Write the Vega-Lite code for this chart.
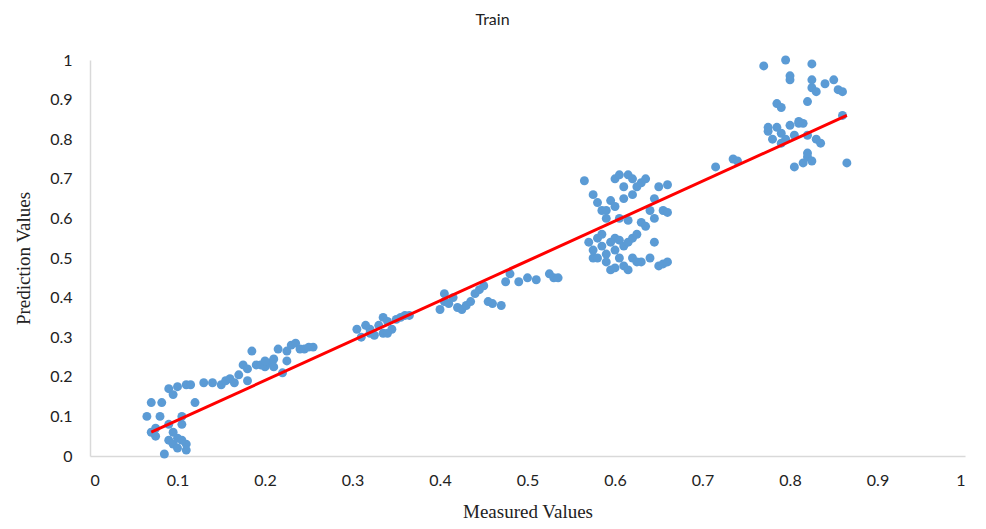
{
  "$schema": "https://vega.github.io/schema/vega-lite/v6.json",
  "autosize": {"type": "none"},
  "width": 875,
  "height": 396,
  "padding": {"left": 90, "top": 60, "right": 21, "bottom": 73},
  "background": "white",
  "title": {"text": "Train", "font": "Lato", "fontSize": 16, "fontWeight": "normal", "color": "#222222", "offset": 24, "dx": -35},
  "config": {"view": {"stroke": null}, "axis": {"labelOverlap": false}},
  "datasets": {
    "pts": [
      {"m":0.065,"p":0.10},{"m":0.07,"p":0.135},{"m":0.075,"p":0.05},{"m":0.075,"p":0.07},{"m":0.08,"p":0.10},{"m":0.082,"p":0.135},{"m":0.085,"p":0.005},{"m":0.09,"p":0.17},{"m":0.09,"p":0.04},{"m":0.09,"p":0.08},{"m":0.095,"p":0.03},{"m":0.095,"p":0.155},{"m":0.1,"p":0.045},{"m":0.1,"p":0.02},{"m":0.1,"p":0.175},{"m":0.105,"p":0.10},{"m":0.105,"p":0.08},{"m":0.11,"p":0.03},{"m":0.11,"p":0.015},{"m":0.11,"p":0.18},{"m":0.115,"p":0.18},{"m":0.12,"p":0.135},{"m":0.105,"p":0.04},{"m":0.095,"p":0.06},{"m":0.07,"p":0.06},
      {"m":0.13,"p":0.185},{"m":0.14,"p":0.185},{"m":0.15,"p":0.18},{"m":0.155,"p":0.19},{"m":0.16,"p":0.195},{"m":0.165,"p":0.185},{"m":0.17,"p":0.205},{"m":0.175,"p":0.23},{"m":0.18,"p":0.19},{"m":0.18,"p":0.22},{"m":0.185,"p":0.265},{"m":0.19,"p":0.23},{"m":0.195,"p":0.23},{"m":0.2,"p":0.225},{"m":0.205,"p":0.235},{"m":0.21,"p":0.245},{"m":0.215,"p":0.27},{"m":0.22,"p":0.21},{"m":0.225,"p":0.265},{"m":0.23,"p":0.28},{"m":0.235,"p":0.285},{"m":0.24,"p":0.27},{"m":0.245,"p":0.27},{"m":0.25,"p":0.275},{"m":0.255,"p":0.275},{"m":0.2,"p":0.24},{"m":0.21,"p":0.225},{"m":0.225,"p":0.24},
      {"m":0.305,"p":0.32},{"m":0.31,"p":0.30},{"m":0.315,"p":0.33},{"m":0.32,"p":0.32},{"m":0.325,"p":0.305},{"m":0.33,"p":0.33},{"m":0.335,"p":0.31},{"m":0.335,"p":0.35},{"m":0.34,"p":0.34},{"m":0.345,"p":0.32},{"m":0.35,"p":0.345},{"m":0.355,"p":0.35},{"m":0.36,"p":0.355},{"m":0.365,"p":0.355},{"m":0.34,"p":0.31},{"m":0.32,"p":0.31},
      {"m":0.40,"p":0.37},{"m":0.405,"p":0.41},{"m":0.405,"p":0.39},{"m":0.41,"p":0.385},{"m":0.415,"p":0.40},{"m":0.42,"p":0.375},{"m":0.425,"p":0.37},{"m":0.43,"p":0.38},{"m":0.435,"p":0.39},{"m":0.44,"p":0.41},{"m":0.445,"p":0.42},{"m":0.45,"p":0.43},{"m":0.455,"p":0.39},{"m":0.46,"p":0.385},{"m":0.47,"p":0.38},{"m":0.475,"p":0.44},{"m":0.48,"p":0.46},{"m":0.49,"p":0.44},{"m":0.50,"p":0.45},{"m":0.51,"p":0.445},{"m":0.525,"p":0.46},{"m":0.53,"p":0.45},{"m":0.535,"p":0.45},
      {"m":0.565,"p":0.695},{"m":0.575,"p":0.66},{"m":0.58,"p":0.64},{"m":0.585,"p":0.62},{"m":0.59,"p":0.60},{"m":0.595,"p":0.645},{"m":0.60,"p":0.70},{"m":0.605,"p":0.71},{"m":0.61,"p":0.68},{"m":0.615,"p":0.71},{"m":0.62,"p":0.70},{"m":0.625,"p":0.68},{"m":0.63,"p":0.69},{"m":0.635,"p":0.70},{"m":0.61,"p":0.65},{"m":0.62,"p":0.66},{"m":0.60,"p":0.63},{"m":0.59,"p":0.62},{"m":0.605,"p":0.60},{"m":0.615,"p":0.595},{"m":0.64,"p":0.62},{"m":0.645,"p":0.65},{"m":0.65,"p":0.68},{"m":0.66,"p":0.685},{"m":0.655,"p":0.62},{"m":0.66,"p":0.615},{"m":0.63,"p":0.59},{"m":0.645,"p":0.60},
      {"m":0.57,"p":0.54},{"m":0.575,"p":0.52},{"m":0.575,"p":0.50},{"m":0.58,"p":0.55},{"m":0.585,"p":0.53},{"m":0.59,"p":0.51},{"m":0.59,"p":0.49},{"m":0.595,"p":0.47},{"m":0.60,"p":0.55},{"m":0.60,"p":0.52},{"m":0.605,"p":0.50},{"m":0.61,"p":0.48},{"m":0.61,"p":0.53},{"m":0.615,"p":0.54},{"m":0.62,"p":0.50},{"m":0.62,"p":0.55},{"m":0.625,"p":0.56},{"m":0.63,"p":0.49},{"m":0.635,"p":0.58},{"m":0.64,"p":0.50},{"m":0.645,"p":0.54},{"m":0.65,"p":0.48},{"m":0.655,"p":0.485},{"m":0.66,"p":0.49},{"m":0.60,"p":0.475},{"m":0.58,"p":0.50},{"m":0.585,"p":0.56},{"m":0.595,"p":0.54},{"m":0.605,"p":0.545},{"m":0.615,"p":0.47},{"m":0.625,"p":0.49},
      {"m":0.715,"p":0.73},{"m":0.735,"p":0.75},{"m":0.74,"p":0.745},{"m":0.77,"p":0.985},{"m":0.775,"p":0.82},{"m":0.78,"p":0.80},{"m":0.785,"p":0.83},{"m":0.785,"p":0.89},{"m":0.79,"p":0.88},{"m":0.79,"p":0.815},{"m":0.795,"p":1.0},{"m":0.795,"p":0.80},{"m":0.80,"p":0.95},{"m":0.80,"p":0.835},{"m":0.80,"p":0.96},{"m":0.805,"p":0.73},{"m":0.805,"p":0.81},{"m":0.81,"p":0.84},{"m":0.815,"p":0.74},{"m":0.815,"p":0.84},{"m":0.82,"p":0.755},{"m":0.82,"p":0.81},{"m":0.82,"p":0.895},{"m":0.82,"p":0.765},{"m":0.825,"p":0.99},{"m":0.825,"p":0.93},{"m":0.825,"p":0.95},{"m":0.825,"p":0.745},{"m":0.83,"p":0.92},{"m":0.83,"p":0.80},{"m":0.835,"p":0.79},{"m":0.84,"p":0.94},{"m":0.85,"p":0.95},{"m":0.855,"p":0.925},{"m":0.86,"p":0.92},{"m":0.86,"p":0.86},{"m":0.865,"p":0.74},{"m":0.81,"p":0.845},{"m":0.775,"p":0.83},{"m":0.79,"p":0.79}
    ],
    "fit": [{"m":0.07,"p":0.06},{"m":0.865,"p":0.86}],
    "note": [{"label":"R² = 0.949"}]
  },
  "encoding": {
    "x": {"field": "m", "type": "quantitative", "scale": {"domain": [0, 1], "nice": false},
      "axis": {"title": "Measured Values", "values": [0,0.1,0.2,0.3,0.4,0.5,0.6,0.7,0.8,0.9,1], "format": "~g", "labelOverlap": false, "grid": false, "ticks": false, "domainColor": "#d9d9d9", "domainWidth": 1.5, "labelFont": "Lato", "labelFontSize": 16, "labelColor": "#222222", "labelPadding": 16, "titleFont": "Liberation Serif", "titleFontSize": 19, "titleFontWeight": "normal", "titleColor": "#222222", "titlePadding": 14}},
    "y": {"field": "p", "type": "quantitative", "scale": {"domain": [0, 1], "nice": false},
      "axis": {"title": "Prediction Values", "values": [0,0.1,0.2,0.3,0.4,0.5,0.6,0.7,0.8,0.9,1], "format": "~g", "labelOverlap": false, "grid": false, "ticks": false, "domainColor": "#d9d9d9", "domainWidth": 1.5, "labelFont": "Lato", "labelFontSize": 16, "labelColor": "#222222", "labelPadding": 18, "titleFont": "Liberation Serif", "titleFontSize": 19, "titleFontWeight": "normal", "titleColor": "#222222", "titlePadding": 16}}
  },
  "layer": [
    {
      "data": {"name": "pts"},
      "mark": {"type": "point", "shape": "circle", "filled": true, "size": 80, "color": "#5b9bd5", "opacity": 1}
    },
    {
      "data": {"name": "fit"},
      "mark": {"type": "line", "color": "#ff0000", "strokeWidth": 3}
    },
    {
      "data": {"name": "note"},
      "mark": {"type": "text", "font": "Liberation Serif", "fontSize": 22, "fontWeight": "bold", "align": "left", "baseline": "middle", "color": "#222222"},
      "encoding": {
        "x": {"datum": 0.052, "type": "quantitative"},
        "y": {"datum": 0.965, "type": "quantitative"},
        "text": {"field": "label"}
      }
    }
  ]
}
